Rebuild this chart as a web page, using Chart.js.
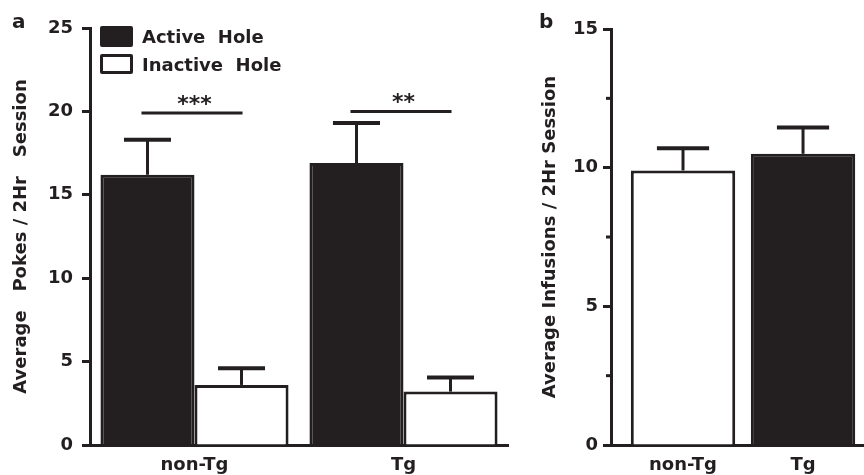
<!DOCTYPE html>
<html>
<head>
<meta charset="utf-8">
<script src="https://cdn.jsdelivr.net/npm/chart.js@4/dist/chart.umd.min.js"></script>
<style>
  body{margin:0;width:864px;height:475px;overflow:hidden;background:#fff;position:relative;}
  .pane{position:absolute;top:0;}
  #paneA{left:0;} #paneB{left:520px;}
  .tag{position:absolute;font:bold 20px/20px "DejaVu Sans";color:#231f20;}
  .key{position:absolute;left:142px;font:bold 18px/18px "DejaVu Sans";color:#231f20;white-space:pre;}
  .box{position:absolute;left:100px;width:33px;height:21px;box-sizing:border-box;border:3px solid #231f20;border-radius:2px;}
</style>
</head>
<body>
<div class="pane" id="paneA"><canvas id="chartA" width="520" height="475"></canvas></div>
<div class="pane" id="paneB"><canvas id="chartB" width="344" height="475"></canvas></div>
<div class="tag" style="left:12px;top:11px">a</div>
<div class="tag" style="left:539px;top:11px">b</div>
<div class="box" style="top:26px;background:#231f20"></div>
<div class="box" style="top:54px;height:20px;background:#fff"></div>
<div class="key" style="top:28px">Active  Hole</div>
<div class="key" style="top:56px">Inactive  Hole</div>
<script>
const ink = '#231f20';

// panel a
const groups = ['non-Tg', 'Tg'];
const activeMean = [16.2, 16.9];
const activeErr = [2.1, 2.4];
const inactiveMean = [3.6, 3.2];
const inactiveErr = [1.0, 0.85];
const pokeTicks = [0, 5, 10, 15, 20, 25];
const sigLevel = [19.9, 20.0];
const sigStars = ['***', '**'];

// panel b
const infGroups = ['non-Tg', 'Tg'];
const infMean = [9.9, 10.5];
const infErr = [0.8, 0.95];
const infTicks = [0, 5, 10, 15];
const infMinor = [2.5, 7.5, 12.5];

const font = {family: 'DejaVu Sans', size: 18, weight: 'bold'};

// error bars (upper only), significance lines, minor ticks
const marks = {
  id: 'marks',
  afterDatasetsDraw(chart, args, o){
    const ctx = chart.ctx, y = chart.scales.y;
    ctx.save();
    ctx.strokeStyle = ink; ctx.fillStyle = ink; ctx.lineCap = 'butt';
    (o.errs || []).forEach((errs, di) => {
      const vals = o.means[di];
      chart.getDatasetMeta(di).data.forEach((bar, i) => {
        const cap = y.getPixelForValue(vals[i] + errs[i]);
        ctx.lineWidth = 3;
        ctx.beginPath(); ctx.moveTo(bar.x, bar.y); ctx.lineTo(bar.x, cap); ctx.stroke();
        ctx.lineWidth = 4;
        ctx.beginPath(); ctx.moveTo(bar.x - bar.width / 4, cap); ctx.lineTo(bar.x + bar.width / 4, cap); ctx.stroke();
      });
    });
    if (o.sig) {
      const a = chart.getDatasetMeta(0).data, b = chart.getDatasetMeta(1).data;
      ctx.font = 'bold 22px "DejaVu Sans"'; ctx.textAlign = 'center'; ctx.textBaseline = 'alphabetic';
      o.sig.level.forEach((lv, i) => {
        const py = y.getPixelForValue(lv);
        ctx.lineWidth = 3;
        ctx.beginPath(); ctx.moveTo(a[i].x - 6, py); ctx.lineTo(b[i].x + 1, py); ctx.stroke();
        ctx.fillText(o.sig.stars[i], (a[i].x + b[i].x) / 2, py - 2);
      });
    }
    if (o.minor) {
      const x0 = chart.chartArea.left;
      ctx.lineWidth = 3;
      o.minor.forEach(v => {
        const py = y.getPixelForValue(v);
        ctx.beginPath(); ctx.moveTo(x0 - 5, py); ctx.lineTo(x0, py); ctx.stroke();
      });
    }
    ctx.restore();
  }
};

const yAxis = (ticks, title, titlePad, width, labelPad) => ({
  min: ticks[0], max: ticks[ticks.length - 1],
  ticks: {stepSize: ticks[1] - ticks[0], color: ink, font, padding: labelPad},
  grid: {drawOnChartArea: false, tickLength: 8, tickWidth: 3, tickColor: ink},
  border: {display: true, width: 3, color: ink},
  title: {display: true, text: title, color: ink, font, padding: {top: titlePad, bottom: 0}},
  afterFit: s => { s.width = width; }
});

const xBase = {
  z: 1,
  grid: {drawOnChartArea: false, drawTicks: false},
  border: {display: true, width: 3, color: ink},
  ticks: {color: ink, font, padding: 10, maxRotation: 0},
  afterFit: s => { s.height = 30; }
};

new Chart(document.getElementById('chartA'), {
  type: 'bar',
  data: {
    labels: groups,
    datasets: [
      {data: activeMean, backgroundColor: ink, borderColor: ink, borderWidth: 3},
      {data: inactiveMean, backgroundColor: '#fff', borderColor: ink, borderWidth: 3}
    ]
  },
  options: {
    responsive: false, animation: false,
    layout: {padding: {top: 28, right: 12, left: 0, bottom: 0}},
    datasets: {bar: {categoryPercentage: 0.9, barPercentage: 1}},
    plugins: {
      legend: {display: false}, tooltip: {enabled: false},
      marks: {errs: [activeErr, inactiveErr], means: [activeMean, inactiveMean], sig: {level: sigLevel, stars: sigStars}}
    },
    scales: {
      x: xBase,
      y: yAxis(pokeTicks, 'Average   Pokes / 2Hr   Session', 11, 90, 9)
    }
  },
  plugins: [marks]
});

new Chart(document.getElementById('chartB'), {
  type: 'bar',
  data: {
    datasets: [{
      data: infMean.map((v, i) => ({x: i, y: v})),
      backgroundColor: ['#fff', ink], borderColor: ink, borderWidth: 3
    }]
  },
  options: {
    responsive: false, animation: false,
    layout: {padding: {top: 29, right: 0, left: 0, bottom: 0}},
    datasets: {bar: {categoryPercentage: 1, barPercentage: 0.87}},
    plugins: {
      legend: {display: false}, tooltip: {enabled: false},
      marks: {errs: [infErr], means: [infMean], minor: infMinor}
    },
    scales: {
      x: Object.assign({}, xBase, {
        type: 'linear', offset: false, min: -0.6, max: 1.508,
        afterBuildTicks: s => { s.ticks = infGroups.map((g, i) => ({value: i})); },
        ticks: Object.assign({}, xBase.ticks, {callback: v => infGroups[v]})
      }),
      y: yAxis(infTicks, 'Average Infusions / 2Hr Session', 20, 91, 5)
    }
  },
  plugins: [marks]
});
</script>
</body>
</html>
